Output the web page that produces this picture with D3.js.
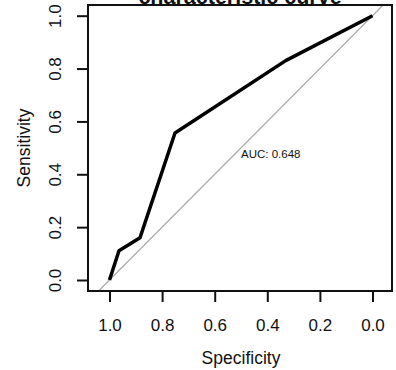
<!DOCTYPE html>
<html>
<head>
<meta charset="utf-8">
<script src="https://cdn.jsdelivr.net/npm/d3@7"></script>
<style>
  html, body { margin: 0; padding: 0; background: #fff; }
  svg { display: block; font-family: "Liberation Sans", Arial, Helvetica, sans-serif; }
</style>
</head>
<body>
<svg id="chart" width="396" height="370"></svg>
<script>
// ROC curve points (specificity, sensitivity)
const specificity = [1.0, 0.964, 0.884, 0.751, 0.33, 0.0];
const sensitivity = [0.0, 0.111, 0.160, 0.556, 0.83, 1.0];
const xTicks = [1.0, 0.8, 0.6, 0.4, 0.2, 0.0];
const yTicks = [0.0, 0.2, 0.4, 0.6, 0.8, 1.0];
const aucValue = 0.648;
const titleText = "characteristic curve";

const svg = d3.select("#chart");
const box = { left: 88, right: 392, top: 5, bottom: 291 };

const x = d3.scaleLinear().domain([1, 0]).range([109.5, 372.5]);
const y = d3.scaleLinear().domain([0, 1]).range([280, 15.7]);

svg.append("defs").append("clipPath").attr("id", "plotclip")
  .append("rect")
  .attr("x", box.left).attr("y", box.top)
  .attr("width", box.right - box.left).attr("height", box.bottom - box.top);

const plot = svg.append("g").attr("clip-path", "url(#plotclip)");

// chance diagonal: sensitivity = 1 - specificity
const diag = [x.invert(box.left), x.invert(box.right)];
plot.append("line")
  .attr("x1", x(diag[0])).attr("y1", y(1 - diag[0]))
  .attr("x2", x(diag[1])).attr("y2", y(1 - diag[1]))
  .attr("stroke", "#aaaaaa").attr("stroke-width", 1.3);

// ROC curve
const pts = specificity.map((s, i) => [s, sensitivity[i]]);
plot.append("path")
  .datum(pts)
  .attr("d", d3.line().x(d => x(d[0])).y(d => y(d[1])))
  .attr("fill", "none").attr("stroke", "#000")
  .attr("stroke-width", 3.5).attr("stroke-linejoin", "round");

// AUC label
svg.append("text")
  .attr("x", x(0.5)).attr("y", y(0.5) + 10)
  .attr("font-size", 11.5).attr("fill", "#111")
  .text("AUC: " + aucValue.toFixed(3));

// frame
svg.append("rect")
  .attr("x", box.left).attr("y", box.top)
  .attr("width", box.right - box.left).attr("height", box.bottom - box.top)
  .attr("fill", "none").attr("stroke", "#111").attr("stroke-width", 2);

// x axis
const xAxis = svg.append("g")
  .attr("transform", `translate(0,${box.bottom})`)
  .call(d3.axisBottom(x).tickValues(xTicks).tickFormat(d3.format(".1f"))
    .tickSize(11).tickPadding(0));
xAxis.select(".domain").remove();
xAxis.selectAll(".tick line").attr("stroke", "#111").attr("stroke-width", 2);
xAxis.selectAll(".tick text")
  .attr("font-size", 17).attr("fill", "#111")
  .attr("dy", null).attr("y", 40);

// y axis
const yAxis = svg.append("g")
  .attr("transform", `translate(${box.left},0)`)
  .call(d3.axisLeft(y).tickValues(yTicks).tickFormat(d3.format(".1f"))
    .tickSize(11).tickPadding(0));
yAxis.select(".domain").remove();
yAxis.selectAll(".tick line").attr("stroke", "#111").attr("stroke-width", 2);
yAxis.selectAll(".tick text")
  .attr("font-size", 17).attr("fill", "#111")
  .attr("x", null).attr("dy", null)
  .attr("text-anchor", "middle")
  .attr("transform", "translate(-27,0) rotate(-90)");

// axis titles
svg.append("text")
  .attr("x", 241).attr("y", 364)
  .attr("text-anchor", "middle").attr("font-size", 17.5).attr("fill", "#111")
  .text("Specificity");

svg.append("text")
  .attr("transform", "translate(30,148) rotate(-90)")
  .attr("text-anchor", "middle").attr("font-size", 17.5).attr("fill", "#111")
  .text("Sensitivity");

// title, sitting on the top edge of the frame
svg.append("text")
  .attr("x", 240).attr("y", 4).attr("text-anchor", "middle")
  .attr("font-size", 21.5).attr("font-weight", "bold").attr("fill", "#111")
  .text(titleText);
</script>
</body>
</html>
